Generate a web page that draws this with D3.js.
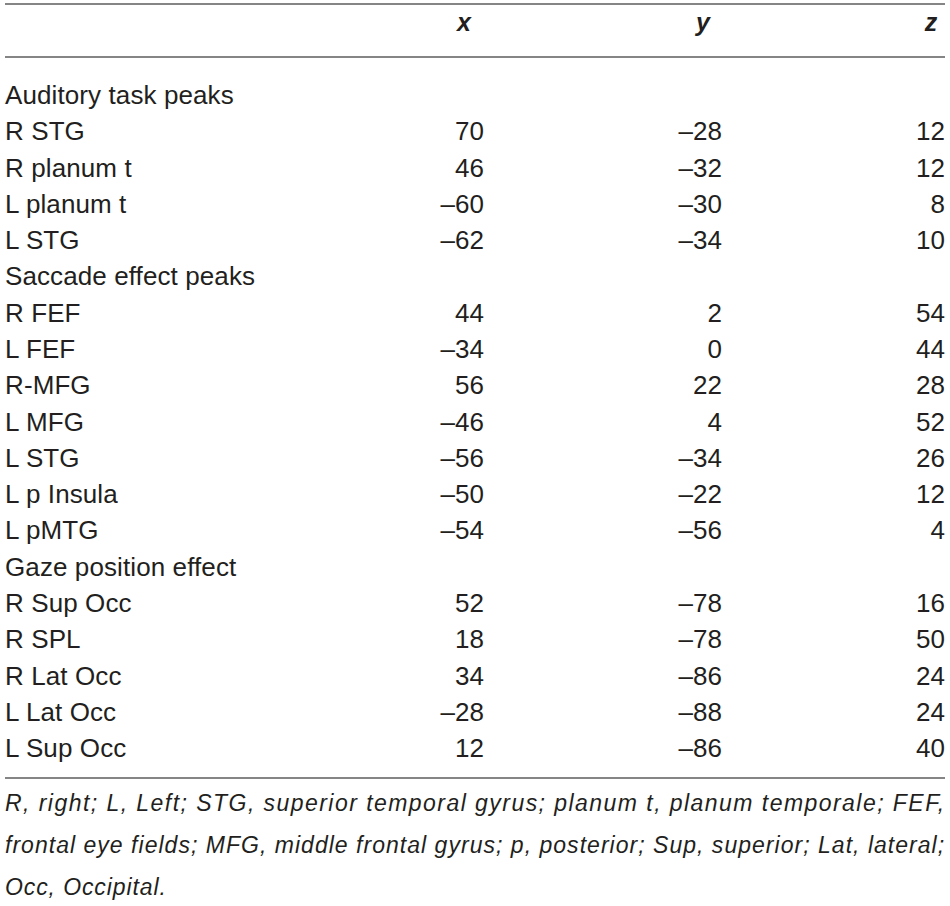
<!DOCTYPE html>
<html>
<head>
<meta charset="utf-8">
<script src="https://cdn.jsdelivr.net/npm/d3@7"></script>
<style>
  body { margin: 0; background: #fff; }
  svg { display: block; }
</style>
</head>
<body>
<svg width="950" height="906"></svg>
<script>
// table contents
var groups = ["Auditory task peaks", "Saccade effect peaks", "Gaze position effect"];
var regions = [
  ["R STG", "R planum t", "L planum t", "L STG"],
  ["R FEF", "L FEF", "R-MFG", "L MFG", "L STG", "L p Insula", "L pMTG"],
  ["R Sup Occ", "R SPL", "R Lat Occ", "L Lat Occ", "L Sup Occ"]
];
var xVals = [70, 46, -60, -62, 44, -34, 56, -46, -56, -50, -54, 52, 18, 34, -28, 12];
var yVals = [-28, -32, -30, -34, 2, 0, 22, 4, -34, -22, -56, -78, -78, -86, -88, -86];
var zVals = [12, 12, 8, 10, 54, 44, 28, 52, 26, 12, 4, 16, 50, 24, 24, 40];
var headers = ["x", "y", "z"];
var footnote = [
  "R, right; L, Left; STG, superior temporal gyrus; planum t, planum temporale; FEF,",
  "frontal eye fields; MFG, middle frontal gyrus; p, posterior; Sup, superior; Lat, lateral;",
  "Occ, Occipital."
];

// flatten into rows: group titles then their regions
var rows = [];
var k = 0;
groups.forEach(function(g, gi) {
  rows.push({label: g, group: true});
  regions[gi].forEach(function(r) {
    rows.push({label: r, group: false, vals: [xVals[k], yVals[k], zVals[k]]});
    k++;
  });
});

var svg = d3.select("svg");
var textColor = "#231f20";
var lineColor = "#858585";
var font = "'Liberation Sans', Arial, sans-serif";

// row positions (text centre)
var rowY = d3.scalePoint()
  .domain(d3.range(rows.length))
  .range([95, 748]);

// right edge of each number column, header centre
var colRight = d3.scaleOrdinal().domain(headers).range([484, 722, 945]);
var colHead = d3.scaleOrdinal().domain(headers).range([464, 703, 931]);

function fmt(v) {
  return v < 0 ? "\u2013" + Math.abs(v) : String(v);
}

// rules
[4, 57, 778].forEach(function(y) {
  svg.append("line")
    .attr("x1", 5).attr("x2", 945)
    .attr("y1", y).attr("y2", y)
    .attr("stroke", lineColor)
    .attr("stroke-width", 2);
});

// header
svg.selectAll(".head")
  .data(headers)
  .enter().append("text")
  .attr("class", "head")
  .attr("x", function(d) { return colHead(d); })
  .attr("y", 22)
  .attr("dy", "0.35em")
  .attr("text-anchor", "middle")
  .style("font-family", font)
  .style("font-size", "25px")
  .style("font-style", "italic")
  .style("font-weight", "bold")
  .attr("fill", textColor)
  .text(function(d) { return d; });

// row labels
var rowG = svg.selectAll(".row")
  .data(rows)
  .enter().append("g")
  .attr("class", "row")
  .attr("transform", function(d, i) { return "translate(0," + rowY(i) + ")"; });

rowG.append("text")
  .attr("x", 5)
  .attr("dy", "0.35em")
  .style("font-family", font)
  .style("font-size", "26px")
  .style("letter-spacing", "0.1px")
  .attr("fill", textColor)
  .text(function(d) { return d.label; });

// numbers
rowG.filter(function(d) { return !d.group; })
  .selectAll(".num")
  .data(function(d) { return d.vals.map(function(v, j) { return {col: headers[j], v: v}; }); })
  .enter().append("text")
  .attr("class", "num")
  .attr("x", function(d) { return colRight(d.col); })
  .attr("dy", "0.35em")
  .attr("text-anchor", "end")
  .style("font-family", font)
  .style("font-size", "26px")
  .attr("fill", textColor)
  .text(function(d) { return fmt(d.v); });

// footnote, first two lines justified to the table width
svg.selectAll(".foot")
  .data(footnote)
  .enter().append("text")
  .attr("class", "foot")
  .attr("x", 5)
  .attr("y", function(d, i) { return 803 + i * 42; })
  .attr("dy", "0.35em")
  .style("font-family", font)
  .style("font-size", "23px")
  .style("font-style", "italic")
  .style("letter-spacing", "0.9px")
  .attr("fill", textColor)
  .each(function(d, i) {
    if (i < footnote.length - 1) {
      d3.select(this).attr("textLength", 940).attr("lengthAdjust", "spacing");
    }
  })
  .text(function(d) { return d; });
</script>
</body>
</html>
